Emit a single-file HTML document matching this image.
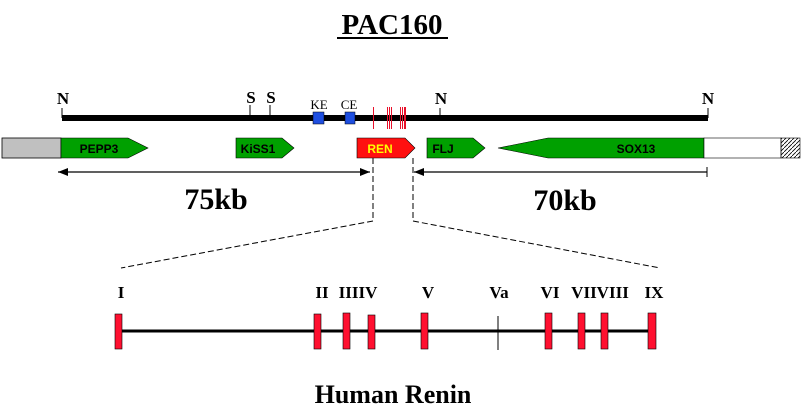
<!DOCTYPE html>
<html><head><meta charset="utf-8"><style>
html,body{margin:0;padding:0;background:#fff;width:804px;height:417px;overflow:hidden}
</style></head><body>
<svg width="804" height="417" xmlns="http://www.w3.org/2000/svg" font-family="Liberation Serif, serif">
<defs>
<pattern id="h" width="4" height="4" patternUnits="userSpaceOnUse"><path d="M0,4 L4,0" stroke="#000" stroke-width="0.8"/></pattern>
<marker id="a" markerWidth="10" markerHeight="8" refX="10" refY="4" orient="auto-start-reverse" markerUnits="userSpaceOnUse"><path d="M0,0 L10,4 L0,8z" fill="#000"/></marker>
</defs>
<text x="392" y="34" font-size="29" font-weight="bold" text-anchor="middle">PAC160</text>
<line x1="337" y1="38" x2="448" y2="38" stroke="#000" stroke-width="2"/>
<line x1="62" y1="118" x2="708" y2="118" stroke="#000" stroke-width="6"/>
<g stroke="#000" stroke-width="1">
<line x1="62" y1="108" x2="62" y2="118"/><line x1="440" y1="108" x2="440" y2="118"/><line x1="708" y1="108" x2="708" y2="118"/>
<line x1="250" y1="105" x2="250" y2="118"/><line x1="270" y1="105" x2="270" y2="118"/>
</g>
<g font-size="17" font-weight="bold" text-anchor="middle">
<text x="63" y="104">N</text><text x="441" y="104">N</text><text x="708" y="104">N</text>
<text x="251" y="103">S</text><text x="271" y="103">S</text>
</g>
<g font-size="13" text-anchor="middle"><text x="319" y="109">KE</text><text x="349" y="109">CE</text></g>
<rect x="313" y="112" width="11" height="12" fill="#1f4fe0" stroke="#000" stroke-width="0.5"/>
<rect x="345" y="112" width="10" height="12" fill="#1f4fe0" stroke="#000" stroke-width="0.5"/>
<g fill="#e8102a" shape-rendering="crispEdges">
<rect x="373" y="107" width="1" height="22"/>
<rect x="387" y="107" width="1" height="22"/><rect x="389" y="107" width="1" height="22"/><rect x="391" y="107" width="1" height="22"/>
<rect x="400" y="107" width="1" height="22"/><rect x="402" y="107" width="1" height="22"/><rect x="404" y="107" width="2" height="22"/>
</g>
<rect x="2" y="138" width="59" height="20" fill="#c0c0c0" stroke="#000" stroke-width="0.8"/>
<g stroke="#000" stroke-width="0.6">
<path d="M61,138 H128 L148,148 L128,158 H61z" fill="#00a000"/>
<path d="M236,138 H282 L294,148 L282,158 H236z" fill="#00a000"/>
<path d="M357,138 H405 L415,148 L405,158 H357z" fill="#ff1010"/>
<path d="M427,138 H473 L485,148 L473,158 H427z" fill="#00a000"/>
<path d="M498,148 L548,138 H704 V158 H548z" fill="#00a000"/>
<rect x="704" y="138" width="77" height="20" fill="#fff"/>
<rect x="781" y="138" width="19" height="20" fill="url(#h)"/>
</g>
<g font-family="Liberation Sans, sans-serif" font-weight="bold" font-size="12" text-anchor="middle">
<text x="99" y="153">PEPP3</text><text x="258" y="153">KiSS1</text>
<text x="380" y="153" fill="#ffff00">REN</text><text x="443" y="153">FLJ</text><text x="636" y="153">SOX13</text>
</g>
<line x1="58" y1="172" x2="370" y2="172" stroke="#000" stroke-width="1.2" marker-start="url(#a)" marker-end="url(#a)"/>
<line x1="414" y1="172" x2="707" y2="172" stroke="#000" stroke-width="1.2" marker-start="url(#a)"/>
<line x1="707" y1="167" x2="707" y2="177" stroke="#000" stroke-width="1"/>
<g font-size="30" font-weight="bold" text-anchor="middle"><text x="216" y="209">75kb</text><text x="565" y="210">70kb</text></g>
<g stroke="#000" stroke-width="1" stroke-dasharray="6,3" fill="none">
<path d="M373,158 V221 L121,268"/>
<path d="M413,158 V221 L660,268"/>
</g>
<line x1="118" y1="331" x2="652" y2="331" stroke="#000" stroke-width="3"/>
<line x1="498" y1="316" x2="498" y2="350" stroke="#000" stroke-width="1"/>
<g fill="#ff1030" stroke="#000" stroke-width="0.6">
<rect x="115" y="314" width="7" height="35"/><rect x="314" y="314" width="7" height="35"/>
<rect x="343" y="313" width="7" height="36"/><rect x="368" y="315" width="7" height="34"/>
<rect x="421" y="313" width="7" height="36"/><rect x="545" y="313" width="7" height="36"/>
<rect x="578" y="313" width="7" height="36"/><rect x="601" y="313" width="7" height="36"/>
<rect x="648" y="313" width="8" height="36"/>
</g>
<g font-size="17" font-weight="bold" text-anchor="middle">
<text x="121" y="298">I</text><text x="322" y="298">II</text><text x="358" y="298">IIIIV</text>
<text x="428" y="298">V</text><text x="499" y="298">Va</text><text x="550" y="298">VI</text>
<text x="600" y="298">VIIVIII</text><text x="654" y="298">IX</text>
</g>
<text x="393" y="403" font-size="26" font-weight="bold" text-anchor="middle">Human Renin</text>
</svg>
</body></html>
